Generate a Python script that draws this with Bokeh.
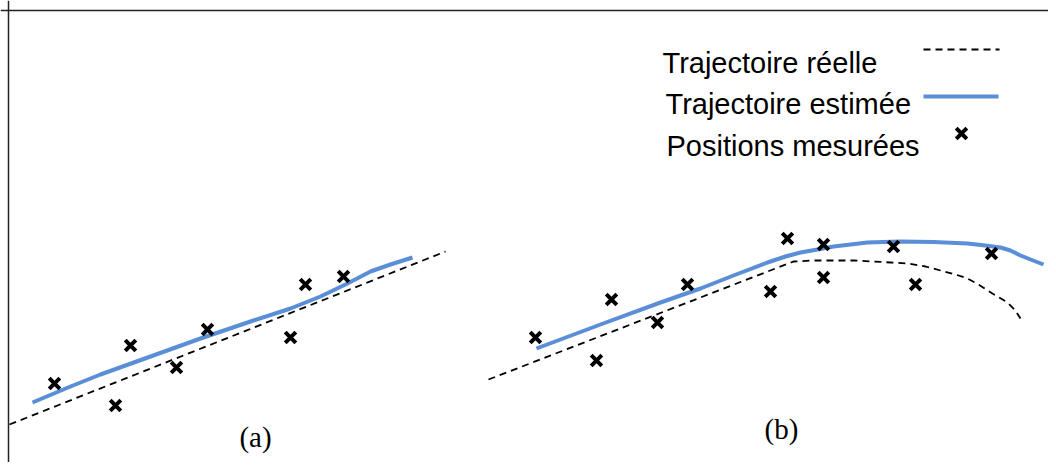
from bokeh.plotting import figure
from bokeh.models import Range1d, Span
from bokeh.core.properties import value
from bokeh.embed import file_html
from bokeh.resources import INLINE

# ---- Panel (a) ----
a_true_x = [9, 445]
a_true_y = [424, 251]
a_est_x = [32, 70, 100, 150, 200, 250, 290, 320, 347, 370, 390, 412]
a_est_y = [402, 386, 374, 356, 338, 321, 308, 296, 283, 271, 264, 257]
a_meas_x = [54, 115, 130, 176, 207, 290, 305, 343]
a_meas_y = [383, 405, 345, 367, 329, 337, 284, 276]

# ---- Panel (b) ----
b_true_x = [488, 793, 813, 833, 853, 873, 890, 907, 925, 940, 955, 967, 978, 987, 997, 1007, 1014, 1020]
b_true_y = [379, 261, 260, 260, 260, 261, 262, 263, 266, 270, 274, 278, 284, 290, 296, 302, 309, 318]
b_est_x = [536, 600, 660, 700, 733, 767, 785, 800, 817, 833, 850, 867, 883, 900, 933, 967, 985, 1000, 1010, 1020, 1030, 1043]
b_est_y = [348, 324, 302, 288, 275, 262, 256, 252, 249, 246, 244, 242, 241.5, 241, 241.5, 243, 245, 247, 250, 255, 259, 264]
b_meas_x = [535, 596, 611, 657, 687, 787, 770, 823, 823, 893, 915, 991]
b_meas_y = [337, 360, 299, 322, 284, 238, 291, 244, 277, 246, 284, 253]

panel_labels = ["(a)", "(b)"]
panel_label_x = [255, 781]
panel_label_y = [436, 428]

legend_labels = ["Trajectoire réelle", "Trajectoire estimée", "Positions mesurées"]
legend_text_x = [662, 665, 666]
legend_text_y = [62, 103, 145]
legend_dash_x = [923, 999]
legend_dash_y = [49, 49]
legend_line_x = [923, 998]
legend_line_y = [96, 96]
legend_mark_x = [961]
legend_mark_y = [133]

BLUE = "#5A8ED6"

p = figure(width=1048, height=462, output_backend="svg", toolbar_location=None,
           x_range=Range1d(0, 1048), y_range=Range1d(462, 0),
           min_border_left=0, min_border_right=0, min_border_top=0, min_border_bottom=0)
p.axis.visible = False
p.grid.visible = False
p.outline_line_color = None
p.background_fill_color = "white"
p.border_fill_color = "white"

# frame (top and left edges)
p.add_layout(Span(location=10, dimension="width", line_color="#222222", line_width=1.5))
p.add_layout(Span(location=8, dimension="height", line_color="#222222", line_width=1.5))

dash = "7 5"
p.line(a_true_x, a_true_y, line_color="black", line_width=1.8, line_dash=dash)
p.line(b_true_x, b_true_y, line_color="black", line_width=1.8, line_dash=dash)
p.line(a_est_x, a_est_y, line_color=BLUE, line_width=4, line_join="round")
p.line(b_est_x, b_est_y, line_color=BLUE, line_width=4, line_join="round")
p.scatter(a_meas_x, a_meas_y, marker="x", size=15, line_width=4, line_color="black")
p.scatter(b_meas_x, b_meas_y, marker="x", size=15, line_width=4, line_color="black")

p.text(x=panel_label_x, y=panel_label_y, text=panel_labels,
       text_font=value("Liberation Serif"), text_font_size="29px",
       text_align="center", text_baseline="middle", text_color="black")

p.text(x=legend_text_x, y=legend_text_y, text=legend_labels,
       text_font=value("Liberation Sans"), text_font_size="29px",
       text_align="left", text_baseline="alphabetic", text_color="black")
p.line(legend_dash_x, legend_dash_y, line_color="black", line_width=1.8, line_dash=dash)
p.line(legend_line_x, legend_line_y, line_color=BLUE, line_width=4)
p.scatter(legend_mark_x, legend_mark_y, marker="x", size=15, line_width=4, line_color="black")

open("out.html", "w").write(file_html(p, INLINE))
